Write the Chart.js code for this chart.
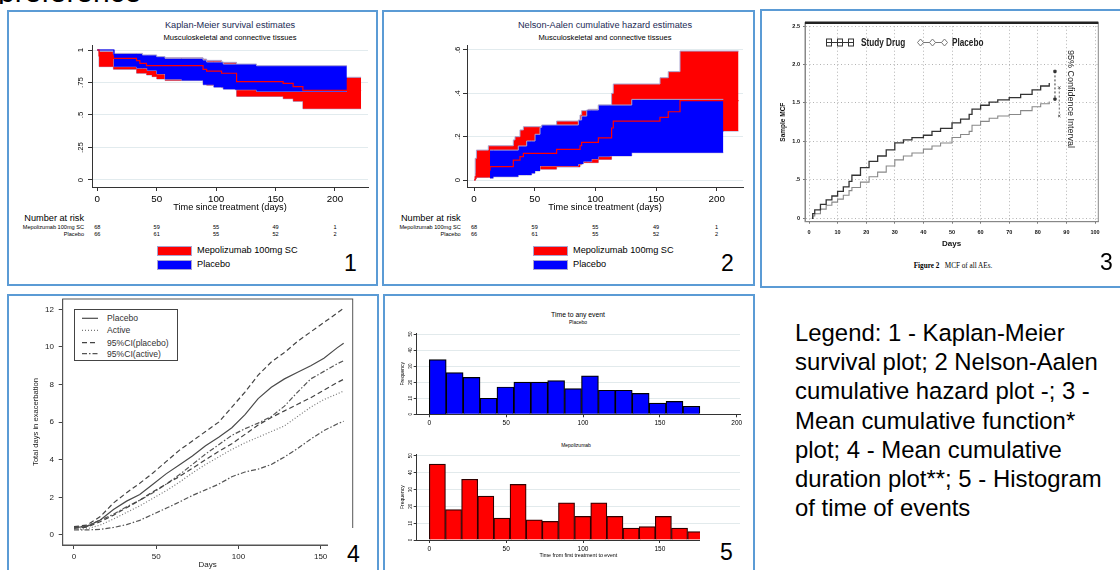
<!DOCTYPE html>
<html>
<head>
<meta charset="utf-8">
<title>Recurrent event plots</title>
<script src="https://cdn.jsdelivr.net/npm/chart.js@4.4.1/dist/chart.umd.min.js"></script>
<style>
  html, body { margin: 0; padding: 0; background: #fff; }
  body { position: relative; width: 1120px; height: 570px; overflow: hidden;
         font-family: 'Liberation Sans', Arial, Helvetica, sans-serif; color: #000; }
  .panel { position: absolute; box-sizing: border-box; border: 2px solid #5b9bd5; }
  canvas { position: absolute; }
  .t { position: absolute; white-space: nowrap; line-height: 1; }
  .c { transform: translate(-50%, -50%); }
  .r { transform: translate(-100%, -50%); }
  .l { transform: translate(0, -50%); }
  .num { position: absolute; font-size: 23px; line-height: 23px; }
  .key { position: absolute; box-sizing: border-box; border: 1px solid #a9a3cf; }
  .cover { position: absolute; background: #fff; }
</style>
</head>
<body>

<div style="position:absolute;left:-2px;top:0;width:200px;height:3.5px;overflow:hidden">
  <div style="position:absolute;left:0;top:-22.7px;font-size:30px;line-height:30px;white-space:nowrap">preference</div>
</div>

<div class="panel" style="left:7px;top:10px;width:371px;height:276px"></div>
<div class="panel" style="left:382px;top:10px;width:373px;height:276px"></div>
<div class="panel" style="left:760px;top:9px;width:400px;height:279px"></div>
<div class="panel" style="left:7px;top:294px;width:372px;height:300px"></div>
<div class="panel" style="left:383px;top:294px;width:372px;height:300px"></div>

<!-- panel 1 : Kaplan-Meier -->
<div class="t c" style="left:230px;top:26px;font-size:9.2px;color:#1c2a55">Kaplan-Meier survival estimates</div>
<div class="t c" style="left:230px;top:38.3px;font-size:7.6px">Musculoskeletal and connective tissues</div>
<canvas id="km" width="315" height="173" style="left:60px;top:40px"></canvas>
<div class="t r" style="left:84px;top:219.3px;font-size:9.2px">Number at risk</div>
<div class="t r" style="left:84px;top:228px;font-size:5.6px">Mepolizumab 100mg SC</div>
<div class="t r" style="left:84px;top:235px;font-size:5.6px">Placebo</div>
<div class="key" style="left:157px;top:246px;width:35px;height:10px;background:#ff0000"></div>
<div class="key" style="left:157px;top:259.5px;width:35px;height:10px;background:#0000ff"></div>
<div class="t l" style="left:197px;top:251px;font-size:9.2px">Mepolizumab 100mg SC</div>
<div class="t l" style="left:197px;top:264.5px;font-size:9.2px">Placebo</div>
<div class="num" style="left:344px;top:252px">1</div>

<!-- panel 2 : Nelson-Aalen -->
<div class="t c" style="left:605px;top:26px;font-size:9.2px;color:#1c2a55">Nelson-Aalen cumulative hazard estimates</div>
<div class="t c" style="left:605px;top:38.3px;font-size:7.6px">Musculoskeletal and connective tissues</div>
<canvas id="na" width="315" height="173" style="left:435px;top:40px"></canvas>
<div class="t r" style="left:460.7px;top:219.3px;font-size:9.2px">Number at risk</div>
<div class="t r" style="left:460.7px;top:228px;font-size:5.6px">Mepolizumab 100mg SC</div>
<div class="t r" style="left:460.7px;top:235px;font-size:5.6px">Placebo</div>
<div class="key" style="left:533px;top:246px;width:35px;height:10px;background:#ff0000"></div>
<div class="key" style="left:533px;top:259.5px;width:35px;height:10px;background:#0000ff"></div>
<div class="t l" style="left:573px;top:251px;font-size:9.2px">Mepolizumab 100mg SC</div>
<div class="t l" style="left:573px;top:264.5px;font-size:9.2px">Placebo</div>
<div class="num" style="left:721px;top:252px">2</div>

<!-- panel 3 : mean cumulative function -->
<canvas id="mcf" width="340" height="234" style="left:770px;top:15px"></canvas>
<svg style="position:absolute;left:826px;top:37.5px" width="28" height="9">
  <line x1="2" y1="4.5" x2="26" y2="4.5" stroke="#333" stroke-width="1"/>
  <rect x="0.5" y="1" width="5" height="7" fill="#fff" stroke="#333"/><line x1="0.5" y1="4.5" x2="5.5" y2="4.5" stroke="#333"/>
  <rect x="11.5" y="1" width="5" height="7" fill="#fff" stroke="#333"/><line x1="11.5" y1="4.5" x2="16.5" y2="4.5" stroke="#333"/>
  <rect x="22.5" y="1" width="5" height="7" fill="#fff" stroke="#333"/><line x1="22.5" y1="4.5" x2="27.5" y2="4.5" stroke="#333"/>
</svg>
<div class="t" style="left:861px;top:42px;font-size:10.5px;font-weight:bold;color:#222;transform-origin:0 50%;transform:translate(0,-50%) scaleX(0.78)">Study Drug</div>
<svg style="position:absolute;left:917px;top:37.5px" width="31" height="9">
  <line x1="3" y1="4.5" x2="28" y2="4.5" stroke="#777" stroke-width="1"/>
  <polygon points="3.5,1 6.5,4.5 3.5,8 0.5,4.5" fill="#fff" stroke="#777"/>
  <polygon points="15.5,1 18.5,4.5 15.5,8 12.5,4.5" fill="#fff" stroke="#777"/>
  <polygon points="27.5,1 30.5,4.5 27.5,8 24.5,4.5" fill="#fff" stroke="#777"/>
</svg>
<div class="t" style="left:952px;top:42px;font-size:10.5px;font-weight:bold;color:#222;transform-origin:0 50%;transform:translate(0,-50%) scaleX(0.78)">Placebo</div>
<div class="t" style="left:1065.5px;top:50px;font-size:9px;color:#222;writing-mode:vertical-rl">95% Confidence Interval</div>
<div class="t c" style="left:953px;top:267px;font-family:'Liberation Serif','Times New Roman',serif;font-size:7.2px"><b>Figure 2</b>&nbsp;&nbsp; MCF of all AEs.</div>
<div class="num" style="left:1100px;top:251px">3</div>

<!-- panel 4 : mean cumulative duration -->
<canvas id="mcd" width="340" height="280" style="left:20px;top:290px"></canvas>
<div style="position:absolute;left:74px;top:309px;width:102px;height:50px;border:1px solid #444;background:#fff">
  <svg style="position:absolute;left:7px;top:0" width="17" height="50">
    <line x1="0" y1="8.3" x2="16" y2="8.3" stroke="#4a4a4a" stroke-width="1.2"/>
    <line x1="0" y1="20.3" x2="16" y2="20.3" stroke="#777" stroke-width="1.2" stroke-dasharray="1,2"/>
    <line x1="0" y1="32.7" x2="16" y2="32.7" stroke="#444" stroke-width="1.2" stroke-dasharray="5,3"/>
    <line x1="0" y1="43.7" x2="16" y2="43.7" stroke="#555" stroke-width="1.2" stroke-dasharray="5,2,1.5,2"/>
  </svg>
  <div class="t l" style="left:32px;top:8.3px;font-size:8.6px;color:#333">Placebo</div>
  <div class="t l" style="left:32px;top:20.3px;font-size:8.6px;color:#333">Active</div>
  <div class="t l" style="left:32px;top:32.7px;font-size:8.6px;color:#333">95%CI(placebo)</div>
  <div class="t l" style="left:32px;top:43.7px;font-size:8.6px;color:#333">95%CI(active)</div>
</div>
<div class="cover" style="left:328px;top:528px;width:49px;height:42px"></div>
<div class="num" style="left:347px;top:543px">4</div>

<!-- panel 5 : histograms -->
<div class="t c" style="left:578px;top:315px;font-size:6.8px">Time to any event</div>
<div class="t c" style="left:578px;top:322.3px;font-size:5px">Placebo</div>
<canvas id="histPlb" width="350" height="100" style="left:395px;top:330px"></canvas>
<div class="t c" style="left:576px;top:445px;font-size:5px">Mepolizumab</div>
<canvas id="histMep" width="350" height="120" style="left:395px;top:450px"></canvas>
<div class="cover" style="left:700px;top:525px;width:52px;height:45px"></div>
<div class="num" style="left:720px;top:540.5px">5</div>

<!-- legend text -->
<div style="position:absolute;left:795px;top:317.7px;font-size:23.9px;line-height:29.3px;white-space:nowrap">
Legend: 1 - Kaplan-Meier<br>
survival plot; 2 Nelson-Aalen<br>
cumulative hazard plot -; 3 -<br>
Mean cumulative function*<br>
plot; 4 - Mean cumulative<br>
duration plot**; 5 - Histogram<br>
of time of events
</div>

<script>
// ---- numbers at risk (panels 1 and 2) ----
const riskDays = [0, 50, 100, 150, 200];
const riskMep = [68, 59, 55, 49, 1];
const riskPlb = [66, 61, 55, 52, 2];

// ---- panel 1: Kaplan-Meier, step bands ----
const kmXTicks = [0, 50, 100, 150, 200];
const kmYTicks = [0, 0.25, 0.5, 0.75, 1];
const kmMepDays  = [0, 1.5, 13.5, 33, 35.8, 41.4, 46, 50, 57, 89, 92, 104.6, 117.2, 156.4, 164.8, 173, 222];
const kmMepEst   = [1, 0.955, 0.936, 0.918, 0.897, 0.88, 0.88, 0.88, 0.88, 0.851, 0.838, 0.821, 0.756, 0.744, 0.718, 0.689, 0.689];
const kmMepUpper = [1, 0.99, 0.97, 0.965, 0.955, 0.945, 0.945, 0.945, 0.94, 0.93, 0.92, 0.905, 0.85, 0.84, 0.82, 0.79, 0.79];
const kmMepLower = [1, 0.872, 0.851, 0.821, 0.821, 0.808, 0.795, 0.777, 0.765, 0.744, 0.728, 0.71, 0.643, 0.625, 0.605, 0.548, 0.548];
const kmPlbDays  = [0, 14, 33, 38, 42, 50, 57, 71, 89, 92, 98, 106, 116, 134, 210];
const kmPlbEst   = [1, 0.94, 0.93, 0.92, 0.905, 0.89, 0.86, 0.85, 0.83, 0.82, 0.81, 0.795, 0.79, 0.78, 0.78];
const kmPlbUpper = [1, 0.974, 0.974, 0.962, 0.962, 0.949, 0.936, 0.936, 0.923, 0.908, 0.908, 0.892, 0.892, 0.879, 0.879];
const kmPlbLower = [1, 0.872, 0.86, 0.86, 0.842, 0.816, 0.775, 0.765, 0.732, 0.732, 0.714, 0.699, 0.694, 0.681, 0.681];

// ---- panel 2: Nelson-Aalen ----
const naXTicks = [0, 50, 100, 150, 200];
const naYTicks = [0, 0.2, 0.4, 0.6];
const naMepDays  = [0, 1, 2, 11.8, 13.2, 32.4, 33.8, 37.9, 40.7, 55.8, 68.1, 87.4, 88.7, 94.2, 102.5, 113.4, 114.8, 153.3, 160.1, 169.8, 218];
const naMepEst   = [0, 0.015, 0.03, 0.045, 0.062, 0.092, 0.092, 0.108, 0.123, 0.123, 0.141, 0.158, 0.174, 0.174, 0.194, 0.24, 0.272, 0.289, 0.315, 0.366, 0.366];
const naMepUpper = [0, 0.1, 0.138, 0.158, 0.158, 0.185, 0.2, 0.231, 0.246, 0.25, 0.272, 0.3, 0.32, 0.326, 0.346, 0.4, 0.443, 0.472, 0.5, 0.595, 0.595];
const naMepLower = [0, 0.005, 0.012, 0.012, 0.02, 0.03, 0.035, 0.042, 0.05, 0.05, 0.06, 0.07, 0.08, 0.08, 0.095, 0.125, 0.15, 0.16, 0.18, 0.226, 0.226];
const naPlbDays  = [13.2, 15.9, 36.5, 43.4, 47.5, 50.3, 54.4, 55.8, 86, 88.7, 90.1, 92.9, 97, 102.5, 112, 130, 205.5];
const naPlbEst   = [0.045, 0.06, 0.075, 0.085, 0.095, 0.11, 0.13, 0.14, 0.155, 0.165, 0.175, 0.185, 0.195, 0.21, 0.215, 0.225, 0.225];
const naPlbUpper = [0.138, 0.138, 0.157, 0.18, 0.18, 0.211, 0.243, 0.254, 0.277, 0.295, 0.295, 0.323, 0.323, 0.346, 0.346, 0.372, 0.372];
const naPlbLower = [0.008, 0.015, 0.023, 0.023, 0.031, 0.042, 0.065, 0.065, 0.074, 0.074, 0.085, 0.085, 0.097, 0.108, 0.111, 0.126, 0.126];

// ---- panel 3: MCF ----
const mcfXTicks = [0, 10, 20, 30, 40, 50, 60, 70, 80, 90, 100];
const mcfYTicks = [0, 0.5, 1, 1.5, 2, 2.5];
const mcfDays    = [1, 1.3, 2, 4, 6, 8, 10, 12, 14, 15, 18, 21, 24, 27, 30, 33, 36, 40, 43, 46, 50, 53, 56, 57, 60, 63, 66, 70, 74, 78, 81, 84];
const mcfDrug    = [0, 0.06, 0.11, 0.18, 0.24, 0.29, 0.35, 0.41, 0.48, 0.56, 0.66, 0.74, 0.81, 0.89, 0.98, 1.02, 1.05, 1.08, 1.13, 1.17, 1.24, 1.29, 1.35, 1.42, 1.47, 1.51, 1.54, 1.57, 1.61, 1.67, 1.72, 1.76];
const mcfPlacebo = [0, 0.03, 0.06, 0.12, 0.17, 0.21, 0.25, 0.3, 0.36, 0.4, 0.47, 0.54, 0.6, 0.68, 0.76, 0.81, 0.85, 0.9, 0.94, 0.98, 1.05, 1.09, 1.13, 1.21, 1.26, 1.3, 1.33, 1.35, 1.4, 1.45, 1.49, 1.52];
const ciDrugDay = 86, ciDrug = [1.91, 1.55];
const ciPlbDay = 87.5, ciPlb = [1.70, 1.33];

// ---- panel 4: mean cumulative duration ----
const mcdXTicks = [0, 50, 100, 150];
const mcdYTicks = [0, 2, 4, 6, 8, 10, 12];
const mcdDays    = [0, 8, 16, 24, 32, 40, 48, 56, 64, 72, 80, 88, 96, 104, 112, 120, 128, 136, 144, 152, 160, 164];
const mcdPlacebo = [0.39, 0.46, 0.8, 1.35, 1.8, 2.15, 2.7, 3.25, 3.72, 4.2, 4.75, 5.2, 5.7, 6.4, 7.25, 7.85, 8.3, 8.65, 9.0, 9.4, 9.95, 10.2];
const mcdActive  = [0.3, 0.33, 0.53, 0.85, 1.2, 1.55, 1.95, 2.35, 2.8, 3.3, 3.75, 4.15, 4.55, 4.9, 5.2, 5.5, 5.8, 6.3, 6.8, 7.2, 7.5, 7.65];
const mcdPlbHi   = [0.44, 0.53, 0.98, 1.7, 2.25, 2.75, 3.3, 3.9, 4.5, 5.0, 5.5, 6.0, 6.8, 7.6, 8.5, 9.2, 9.7, 10.3, 10.8, 11.3, 11.8, 12.05];
const mcdPlbLo   = [0.35, 0.42, 0.71, 1.05, 1.45, 1.85, 2.3, 2.7, 3.1, 3.55, 4.0, 4.45, 4.85, 5.35, 5.85, 6.25, 6.6, 6.95, 7.3, 7.7, 8.1, 8.28];
const mcdActHi   = [0.41, 0.48, 0.8, 1.1, 1.5, 1.85, 2.25, 2.7, 3.2, 3.75, 4.3, 4.8, 5.3, 5.65, 5.95, 6.3, 6.85, 7.6, 8.3, 8.7, 9.1, 9.27];
const mcdActLo   = [0.27, 0.27, 0.3, 0.4, 0.55, 0.78, 1.1, 1.42, 1.75, 2.1, 2.4, 2.7, 3.1, 3.35, 3.5, 3.75, 4.15, 4.6, 5.1, 5.55, 5.9, 6.05];

// ---- panel 5: histograms ----
const histXTicks = [0, 50, 100, 150, 200];
const histYTicks = [0, 10, 20, 30, 40, 50];
const plbBinMid = [5.5, 16.5, 27.5, 38.5, 49.5, 60.5, 71.5, 82.5, 93.5, 104.5, 115.5, 126.5, 137.5, 148.5, 159.5, 170.5];
const plbFreq   = [34, 26, 23, 10, 17, 20, 20, 21, 16, 24, 15, 15, 13, 7, 8, 5];
const mepBinMid = [5.25, 15.75, 26.25, 36.75, 47.25, 57.75, 68.25, 78.75, 89.25, 99.75, 110.25, 120.75, 131.25, 141.75, 152.25, 162.75, 173.25];
const mepFreq   = [45, 18, 36, 26, 13, 33, 12, 11, 22, 14, 22, 14, 7, 8, 14, 7, 5];

const RED = '#ff0000', BLUE = '#0000ff', OUTLINE = '#a9a3cf';

Chart.defaults.font.family = "'Liberation Sans', Arial, sans-serif";
Chart.defaults.color = '#000';
Chart.defaults.plugins.legend.display = false;
Chart.defaults.plugins.tooltip.enabled = false;

function xy(days, vals) { return days.map((d, i) => ({ x: d, y: vals[i] })); }
function fixTicks(list) { return axis => { axis.ticks = list.map(v => ({ value: v })); }; }
// force axis thickness so the plot areas sit where the reference has them
function fixSize(px) {
  return axis => {
    if (axis.isHorizontal()) axis.height = px; else axis.width = px;
    axis.paddingTop = axis.paddingBottom = axis.paddingLeft = axis.paddingRight = 0;
  };
}
const stataLabel = v => v === 0 ? '0' : String(v).replace(/^0\./, '.');

function band(days, vals, colour, fill, order) {
  return { data: xy(days, vals), stepped: true, fill: fill, backgroundColor: colour,
           borderColor: OUTLINE, borderWidth: 1, pointRadius: 0, order: order };
}
function stepLine(days, vals, colour, order) {
  return { data: xy(days, vals), stepped: true, fill: false, borderColor: colour,
           borderWidth: 1.2, pointRadius: 0, order: order };
}

function stataOptions(xMin, xMax, yMin, yMax, xTicks, yTicks) {
  return {
    responsive: false, animation: false, events: [],
    layout: { padding: { left: 0, top: 5, right: 7, bottom: 0 } },
    scales: {
      x: {
        type: 'linear', min: xMin, max: xMax,
        afterBuildTicks: fixTicks(xTicks), afterFit: fixSize(26),
        grid: { drawOnChartArea: false, tickLength: 4, tickColor: '#333' },
        border: { color: '#333' },
        ticks: { font: { size: 9.8 }, color: '#000', padding: 2, maxRotation: 0, autoSkip: false },
        title: { display: true, text: 'Time since treatment (days)', font: { size: 9.2 }, color: '#000', padding: 0 }
      },
      y: {
        type: 'linear', min: yMin, max: yMax,
        afterBuildTicks: fixTicks(yTicks), afterFit: fixSize(32),
        grid: { color: '#e2ebee', tickLength: 4, tickColor: '#333' },
        border: { color: '#333' },
        ticks: { font: { size: 7.8 }, color: '#000', padding: 2, minRotation: 90, maxRotation: 90,
                 crossAlign: 'center', autoSkip: false, callback: stataLabel }
      }
    }
  };
}

const framePlugin = {
  id: 'frame',
  afterDatasetsDraw(chart, args, opts) {
    if (!opts || !opts.color) return;
    const { ctx, chartArea: a } = chart;
    ctx.save();
    ctx.strokeStyle = opts.color;
    ctx.lineWidth = opts.width || 1;
    ctx.strokeRect(a.left, a.top, a.right - a.left, a.bottom - a.top);
    if (opts.topWidth) {
      ctx.strokeStyle = opts.topColor;
      ctx.lineWidth = opts.topWidth;
      ctx.beginPath(); ctx.moveTo(a.left, a.top); ctx.lineTo(a.right, a.top); ctx.stroke();
    }
    ctx.restore();
  }
};

function addText(txt, x, y, size) {
  const d = document.createElement('div');
  d.className = 't c';
  d.textContent = txt;
  d.style.left = x + 'px';
  d.style.top = y + 'px';
  d.style.fontSize = size + 'px';
  document.body.appendChild(d);
}
function riskTable(chart, canvas) {
  riskDays.forEach((d, i) => {
    const x = canvas.offsetLeft + chart.scales.x.getPixelForValue(d);
    addText(String(riskMep[i]), x, 228, 5.6);
    addText(String(riskPlb[i]), x, 235, 5.6);
  });
}

// panel 1
const kmCanvas = document.getElementById('km');
const km = new Chart(kmCanvas, {
  type: 'line',
  data: { datasets: [
    band(kmMepDays, kmMepUpper, RED, '+1', 5),
    band(kmMepDays, kmMepLower, RED, false, 5),
    band(kmPlbDays, kmPlbUpper, BLUE, '+1', 3),
    band(kmPlbDays, kmPlbLower, BLUE, false, 3),
    stepLine(kmPlbDays, kmPlbEst, BLUE, 1),
    stepLine(kmMepDays, kmMepEst, RED, 0)
  ] },
  options: stataOptions(-4.46, 227.8, -0.054, 1.0385, kmXTicks, kmYTicks)
});
riskTable(km, kmCanvas);

// panel 2
const naCanvas = document.getElementById('na');
const na = new Chart(naCanvas, {
  type: 'line',
  data: { datasets: [
    band(naMepDays, naMepUpper, RED, '+1', 5),
    band(naMepDays, naMepLower, RED, false, 5),
    band(naPlbDays, naPlbUpper, BLUE, '+1', 3),
    band(naPlbDays, naPlbLower, BLUE, false, 3),
    stepLine(naPlbDays, naPlbEst, BLUE, 1),
    stepLine(naMepDays, naMepEst, RED, 0)
  ] },
  options: stataOptions(-5.77, 221.7, -0.0323, 0.623, naXTicks, naYTicks)
});
riskTable(na, naCanvas);

// panel 3
new Chart(document.getElementById('mcf'), {
  type: 'line',
  data: { datasets: [
    { data: xy(mcfDays, mcfDrug), stepped: true, borderColor: '#333', borderWidth: 1.3, pointRadius: 0, fill: false },
    { data: xy(mcfDays, mcfPlacebo), stepped: true, borderColor: '#888', borderWidth: 1.1, pointRadius: 0, fill: false },
    { data: ciDrug.map(v => ({ x: ciDrugDay, y: v })), borderColor: '#333', borderWidth: 1, borderDash: [2, 2],
      pointRadius: 1.6, pointStyle: 'rect', pointBackgroundColor: '#333', pointBorderColor: '#333', fill: false },
    { data: ciPlb.map(v => ({ x: ciPlbDay, y: v })), borderColor: '#666', borderWidth: 1, borderDash: [2, 2],
      pointRadius: 1.6, pointStyle: 'crossRot', pointBorderColor: '#555', fill: false }
  ] },
  plugins: [framePlugin],
  options: {
    responsive: false, animation: false, events: [],
    layout: { padding: { left: 0, top: 7.7, right: 11.7, bottom: 0 } },
    plugins: { frame: { color: '#888', width: 1, topColor: '#222', topWidth: 2.5 } },
    scales: {
      x: {
        type: 'linear', min: -1.4, max: 101.15,
        afterBuildTicks: fixTicks(mcfXTicks), afterFit: fixSize(27.3),
        grid: { color: '#a0a0a0', lineWidth: 0.8, tickLength: 2, tickColor: '#555' },
        border: { color: '#888', dash: [1, 2.5] },
        ticks: { font: { size: 5.5, weight: 'bold' }, color: '#111', padding: 5.5, maxRotation: 0, autoSkip: false },
        title: { display: true, text: 'Days', font: { size: 8, weight: 'bold' }, color: '#111', padding: 0 }
      },
      y: {
        type: 'linear', min: -0.044, max: 2.543,
        afterBuildTicks: fixTicks(mcfYTicks), afterFit: fixSize(35),
        grid: { color: '#a0a0a0', lineWidth: 0.8, tickLength: 2, tickColor: '#555' },
        border: { color: '#888', dash: [1, 2.5] },
        ticks: { font: { size: 5.5, weight: 'bold' }, color: '#111', padding: 3, autoSkip: false,
                 callback: v => v === 0 ? '0' : (v < 1 ? '.5' : v.toFixed(1)) },
        title: { display: true, text: 'Sample MCF', font: { size: 6.5, weight: 'bold' }, color: '#111',
                 padding: { top: 9.4, bottom: 0 } }
      }
    }
  }
});

// panel 4
new Chart(document.getElementById('mcd'), {
  type: 'line',
  data: { datasets: [
    { data: xy(mcdDays, mcdPlacebo), borderColor: '#4a4a4a', borderWidth: 1.2, pointRadius: 0, fill: false },
    { data: xy(mcdDays, mcdActive), borderColor: '#777', borderWidth: 1.2, borderDash: [1, 2], pointRadius: 0, fill: false },
    { data: xy(mcdDays, mcdPlbHi), borderColor: '#444', borderWidth: 1.2, borderDash: [5, 3], pointRadius: 0, fill: false },
    { data: xy(mcdDays, mcdPlbLo), borderColor: '#444', borderWidth: 1.2, borderDash: [5, 3], pointRadius: 0, fill: false },
    { data: xy(mcdDays, mcdActHi), borderColor: '#555', borderWidth: 1.2, borderDash: [5, 2, 1.5, 2], pointRadius: 0, fill: false },
    { data: xy(mcdDays, mcdActLo), borderColor: '#555', borderWidth: 1.2, borderDash: [5, 2, 1.5, 2], pointRadius: 0, fill: false }
  ] },
  plugins: [framePlugin],
  options: {
    responsive: false, animation: false, events: [],
    layout: { padding: { left: 0, top: 9, right: 7.3, bottom: 0 } },
    plugins: { frame: { color: '#555', width: 1 } },
    scales: {
      x: {
        type: 'linear', min: -6.87, max: 169.5,
        afterBuildTicks: fixTicks(mcdXTicks), afterFit: fixSize(25),
        grid: { drawOnChartArea: false, tickLength: 4, tickColor: '#444' },
        border: { color: '#555' },
        ticks: { font: { size: 8 }, color: '#222', padding: 2.5, maxRotation: 0, autoSkip: false },
        title: { display: true, text: 'Days', font: { size: 8 }, color: '#222', padding: { top: 0, bottom: 0.5 } }
      },
      y: {
        type: 'linear', min: -0.532, max: 12.548,
        afterBuildTicks: fixTicks(mcdYTicks), afterFit: fixSize(42.7),
        grid: { drawOnChartArea: false, tickLength: 4, tickColor: '#444' },
        border: { color: '#555' },
        ticks: { font: { size: 8 }, color: '#222', padding: 4.7, autoSkip: false },
        title: { display: true, text: 'Total days in exacerbation', font: { size: 7.6 }, color: '#222',
                 padding: { top: 11.8, bottom: 0 } }
      }
    }
  }
});

// panel 5
function histChart(id, mids, freq, colour, edge, yMax, padTop, xHeight, xTitle) {
  return new Chart(document.getElementById(id), {
    type: 'bar',
    data: { datasets: [{
      data: xy(mids, freq), backgroundColor: colour, borderColor: edge, borderWidth: 1.2,
      barPercentage: 1, categoryPercentage: 1
    }] },
    options: {
      responsive: false, animation: false, events: [],
      layout: { padding: { left: 0, top: padTop, right: 5, bottom: 0 } },
      scales: {
        x: {
          type: 'linear', offset: false, min: -8.2, max: 202.1,
          afterBuildTicks: fixTicks(histXTicks), afterFit: fixSize(xHeight),
          grid: { drawOnChartArea: false, offset: false, tickLength: 3, tickColor: '#333' },
          border: { color: '#333' },
          ticks: { font: { size: 6.5 }, color: '#000', padding: 2.5, maxRotation: 0, autoSkip: false },
          title: { display: !!xTitle, text: xTitle || '', font: { size: 5.3 }, color: '#000',
                   padding: { top: 0, bottom: 11.3 } }
        },
        y: {
          type: 'linear', min: 0, max: yMax,
          afterBuildTicks: fixTicks(histYTicks), afterFit: fixSize(21.7),
          grid: { color: '#e2eaec', tickLength: 3, tickColor: '#333' },
          border: { color: '#333' },
          ticks: { font: { size: 4.5 }, color: '#000', padding: 0.5, minRotation: 90, maxRotation: 90,
                   crossAlign: 'center', autoSkip: false },
          title: { display: true, text: 'Frequency', font: { size: 5 }, color: '#000', padding: { top: 4.7, bottom: 0 } }
        }
      }
    }
  });
}
histChart('histPlb', plbBinMid, plbFreq, BLUE, '#000', 50.44, 3.3, 15.7, null);
histChart('histMep', mepBinMid, mepFreq, RED, '#300000', 50.83, 4.3, 30, 'Time from first treatment to event');
</script>
</body>
</html>
